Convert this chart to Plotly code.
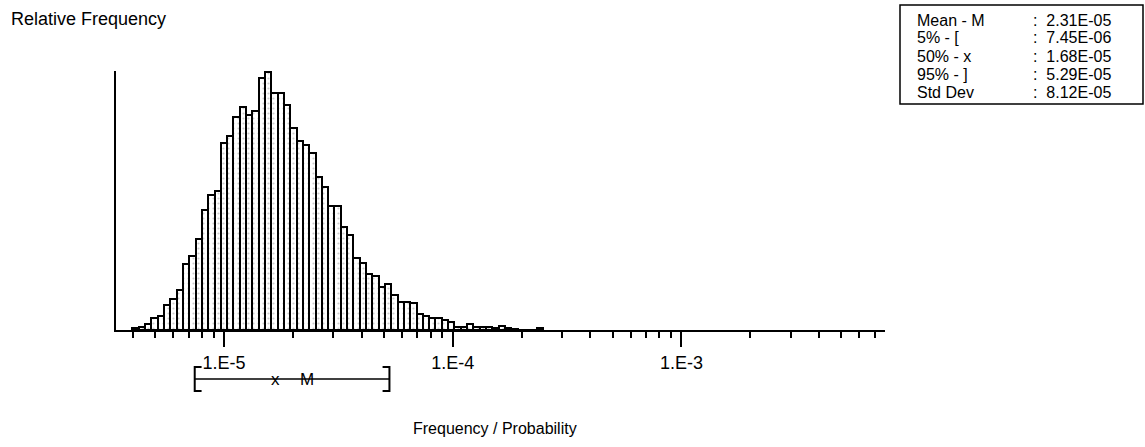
import math
import plotly.graph_objects as go

# ---------------- data ----------------
# histogram bins are equally spaced in log10(value)
bin_start_log10 = -5.40
bin_width_log10 = 0.0276
rel_freq = [2, 3.3, 6, 12.3, 14.3, 25, 31.3, 40, 66.3, 75, 91.7, 121, 135.7, 140,
            188.3, 196, 215, 225, 217, 221, 254, 260, 239, 239, 227, 204, 190, 186,
            178, 154, 144, 125, 125, 104, 96, 73, 68, 56, 54, 43, 46, 35, 28, 28, 27,
            16, 14, 12.5, 12.5, 10, 8, 3, 3.3, 6.5, 3, 3, 3, 2, 4, 2, 1, 0, 0, 0, 2.3]

stat_names = ["Mean - M", "5% - [", "50% - x", "95% - ]", "Std Dev"]
stat_values = [2.31e-05, 7.45e-06, 1.68e-05, 5.29e-05, 8.12e-05]
mean_v, p5_v, p50_v, p95_v = stat_values[0], stat_values[1], stat_values[2], stat_values[3]

major_decades = [-5, -4, -3]
major_labels = ["1.E-5", "1.E-4", "1.E-3"]
minor_multipliers = [2, 3, 4, 5, 6, 7, 8, 9]
x_range_log10 = [-5.472, -2.110]
y_range = [0, 261]

# ---------------- layout helpers ----------------
W, H = 1145, 447
def px(x):
    return x / W
def py(y):
    return 1 - y / H

FONT = "Liberation Sans, Arial, sans-serif"

centers = [bin_start_log10 + (i + 0.5) * bin_width_log10 for i in range(len(rel_freq))]

minor_vals = []
for dec in range(-7, -1):
    for m in minor_multipliers:
        v = dec + math.log10(m)
        if x_range_log10[0] <= v <= x_range_log10[1]:
            minor_vals.append(v)

fig = go.Figure()
fig.add_trace(go.Bar(
    x=centers, y=rel_freq, width=[bin_width_log10] * len(rel_freq),
    marker=dict(color="white",
                line=dict(color="black", width=2),
                pattern=dict(shape=".", fgcolor="#9a9a9a", bgcolor="white",
                             size=5, solidity=0.15)),
    showlegend=False, hoverinfo="skip"))

fig.update_layout(
    width=W, height=H,
    margin=dict(l=0, r=0, t=0, b=0),
    paper_bgcolor="white", plot_bgcolor="white",
    bargap=0,
    font=dict(family=FONT, color="black", size=16),
    xaxis=dict(domain=[px(116), px(885)], range=x_range_log10,
               tickmode="array", tickvals=major_decades, ticktext=major_labels,
               ticks="outside", ticklen=15, tickwidth=2, tickcolor="black",
               showline=True, linecolor="black", linewidth=2,
               showgrid=False, zeroline=False,
               tickfont=dict(size=18, family=FONT),
               minor=dict(tickmode="array", tickvals=minor_vals, ticks="outside",
                          ticklen=6, tickwidth=2, tickcolor="black", showgrid=False)),
    yaxis=dict(domain=[py(330), py(71)], range=y_range,
               showline=True, linecolor="black", linewidth=2,
               showticklabels=False, ticks="", showgrid=False, zeroline=False),
)

# y-axis caption and x-axis caption
fig.add_annotation(text="Relative Frequency", xref="paper", yref="paper",
                   x=px(9), y=py(19), xanchor="left", yanchor="middle",
                   showarrow=False, font=dict(size=18))
fig.add_annotation(text="Frequency / Probability", xref="paper", yref="paper",
                   x=px(495), y=py(428), xanchor="center", yanchor="middle",
                   showarrow=False, font=dict(size=16))

# percentile bracket under the axis
y_line = py(379)
y_top = py(367)
y_bot = py(391)
d = 0.03
lp5, lp95 = math.log10(p5_v), math.log10(p95_v)
fig.add_shape(type="line", xref="x", yref="paper", x0=lp5, x1=lp95, y0=y_line, y1=y_line,
              line=dict(color="black", width=1.5))
fig.add_shape(type="path", xref="x", yref="paper",
              path=f"M {lp5 + d},{y_top} L {lp5},{y_top} L {lp5},{y_bot} L {lp5 + d},{y_bot}",
              line=dict(color="black", width=2))
fig.add_shape(type="path", xref="x", yref="paper",
              path=f"M {lp95 - d},{y_top} L {lp95},{y_top} L {lp95},{y_bot} L {lp95 - d},{y_bot}",
              line=dict(color="black", width=2))
for lbl, v in [("x", p50_v), ("M", mean_v)]:
    fig.add_annotation(text=lbl, xref="x", yref="paper", x=math.log10(v), y=y_line,
                       xanchor="center", yanchor="middle", showarrow=False,
                       font=dict(size=17))

# statistics box
fig.add_shape(type="rect", xref="paper", yref="paper",
              x0=px(900), x1=px(1143), y0=py(104), y1=py(5),
              line=dict(color="black", width=1.5), fillcolor="white", layer="below")
row_y = [20, 38, 56, 74, 92]
for name, val, ry in zip(stat_names, stat_values, row_y):
    fig.add_annotation(text=name, xref="paper", yref="paper", x=px(916), y=py(ry),
                       xanchor="left", yanchor="middle", showarrow=False, borderpad=0,
                       font=dict(size=16))
    fig.add_annotation(text=f":  {val:.2E}", xref="paper", yref="paper", x=px(1032), y=py(ry),
                       xanchor="left", yanchor="middle", showarrow=False, borderpad=0,
                       font=dict(size=16))

fig.write_html("out.html")
